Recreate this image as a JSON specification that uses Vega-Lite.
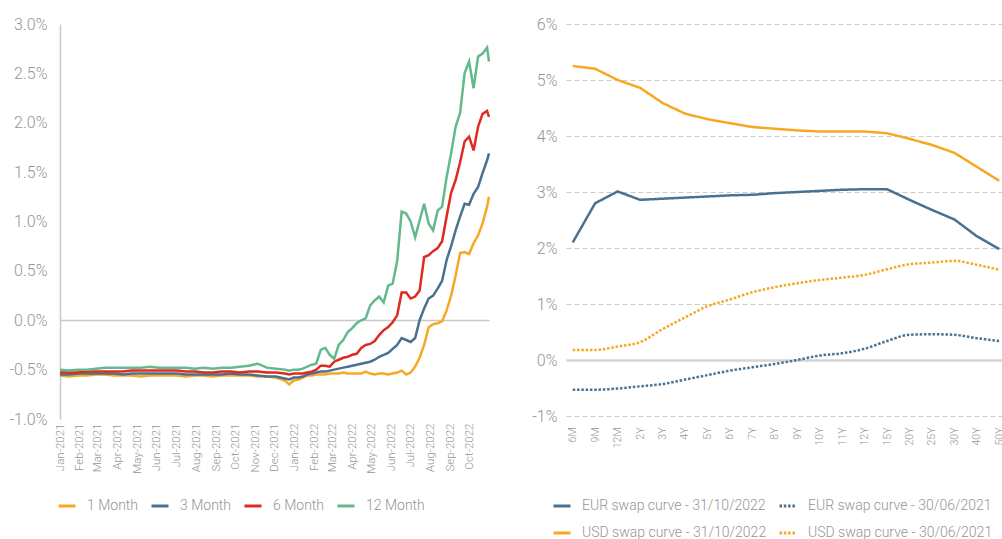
{
  "$schema": "https://vega.github.io/schema/vega-lite/v6.json",
  "background": "white",
  "padding": {"left": 9, "top": 16, "right": 0, "bottom": 0},
  "spacing": 37,
  "resolve": {"scale": {"color": "independent", "strokeDash": "independent"}, "legend": {"color": "independent", "strokeDash": "independent"}},
  "config": {
    "view": {"stroke": null},
    "font": "Roboto",
    "axis": {"labelColor": "#959595", "labelFont": "Roboto", "labelFontWeight": 300},
    "legend": {"labelFont": "Roboto", "labelFontWeight": 300, "labelFontSize": 14, "labelColor": "#959595", "symbolType": "stroke", "symbolStrokeWidth": 3, "symbolSize": 289, "labelOffset": 10, "labelLimit": 400}
  },
  "hconcat": [
    {
      "width": 429,
      "height": 395,
      "data": {"values": [
        {"date":"2021-01-01","series":"1 Month","rate":-0.56},{"date":"2021-01-15","series":"1 Month","rate":-0.57},{"date":"2021-01-29","series":"1 Month","rate":-0.56},{"date":"2021-02-12","series":"1 Month","rate":-0.56},{"date":"2021-02-26","series":"1 Month","rate":-0.55},{"date":"2021-03-12","series":"1 Month","rate":-0.55},{"date":"2021-03-26","series":"1 Month","rate":-0.56},{"date":"2021-04-09","series":"1 Month","rate":-0.56},{"date":"2021-04-23","series":"1 Month","rate":-0.56},{"date":"2021-05-07","series":"1 Month","rate":-0.57},{"date":"2021-05-21","series":"1 Month","rate":-0.56},{"date":"2021-06-04","series":"1 Month","rate":-0.56},{"date":"2021-06-18","series":"1 Month","rate":-0.56},{"date":"2021-07-02","series":"1 Month","rate":-0.56},{"date":"2021-07-16","series":"1 Month","rate":-0.57},{"date":"2021-07-30","series":"1 Month","rate":-0.56},{"date":"2021-08-13","series":"1 Month","rate":-0.56},{"date":"2021-08-27","series":"1 Month","rate":-0.57},{"date":"2021-09-10","series":"1 Month","rate":-0.56},{"date":"2021-09-24","series":"1 Month","rate":-0.56},{"date":"2021-10-08","series":"1 Month","rate":-0.56},{"date":"2021-10-22","series":"1 Month","rate":-0.56},{"date":"2021-11-05","series":"1 Month","rate":-0.57},{"date":"2021-11-19","series":"1 Month","rate":-0.57},{"date":"2021-12-03","series":"1 Month","rate":-0.58},{"date":"2021-12-17","series":"1 Month","rate":-0.61},{"date":"2021-12-24","series":"1 Month","rate":-0.65},{"date":"2021-12-31","series":"1 Month","rate":-0.61},
        {"date":"2022-01-07","series":"1 Month","rate":-0.60},{"date":"2022-01-14","series":"1 Month","rate":-0.58},{"date":"2022-01-21","series":"1 Month","rate":-0.56},{"date":"2022-01-28","series":"1 Month","rate":-0.56},{"date":"2022-02-04","series":"1 Month","rate":-0.55},{"date":"2022-02-11","series":"1 Month","rate":-0.55},{"date":"2022-02-18","series":"1 Month","rate":-0.55},{"date":"2022-02-25","series":"1 Month","rate":-0.54},{"date":"2022-03-04","series":"1 Month","rate":-0.54},{"date":"2022-03-11","series":"1 Month","rate":-0.54},{"date":"2022-03-18","series":"1 Month","rate":-0.53},{"date":"2022-03-25","series":"1 Month","rate":-0.54},{"date":"2022-04-01","series":"1 Month","rate":-0.54},{"date":"2022-04-08","series":"1 Month","rate":-0.54},{"date":"2022-04-15","series":"1 Month","rate":-0.54},{"date":"2022-04-22","series":"1 Month","rate":-0.52},{"date":"2022-04-29","series":"1 Month","rate":-0.54},{"date":"2022-05-06","series":"1 Month","rate":-0.55},{"date":"2022-05-13","series":"1 Month","rate":-0.54},{"date":"2022-05-20","series":"1 Month","rate":-0.54},{"date":"2022-05-27","series":"1 Month","rate":-0.55},{"date":"2022-06-03","series":"1 Month","rate":-0.54},{"date":"2022-06-10","series":"1 Month","rate":-0.53},{"date":"2022-06-17","series":"1 Month","rate":-0.51},{"date":"2022-06-24","series":"1 Month","rate":-0.55},{"date":"2022-07-01","series":"1 Month","rate":-0.53},{"date":"2022-07-08","series":"1 Month","rate":-0.47},{"date":"2022-07-15","series":"1 Month","rate":-0.38},{"date":"2022-07-22","series":"1 Month","rate":-0.25},{"date":"2022-07-29","series":"1 Month","rate":-0.07},{"date":"2022-08-05","series":"1 Month","rate":-0.04},{"date":"2022-08-12","series":"1 Month","rate":-0.03},{"date":"2022-08-19","series":"1 Month","rate":-0.01},{"date":"2022-08-26","series":"1 Month","rate":0.10},{"date":"2022-09-02","series":"1 Month","rate":0.25},{"date":"2022-09-09","series":"1 Month","rate":0.45},{"date":"2022-09-16","series":"1 Month","rate":0.68},{"date":"2022-09-23","series":"1 Month","rate":0.69},{"date":"2022-09-30","series":"1 Month","rate":0.67},{"date":"2022-10-07","series":"1 Month","rate":0.78},{"date":"2022-10-14","series":"1 Month","rate":0.86},{"date":"2022-10-21","series":"1 Month","rate":0.98},{"date":"2022-10-28","series":"1 Month","rate":1.15},{"date":"2022-10-31","series":"1 Month","rate":1.25},

        {"date":"2021-01-01","series":"3 Month","rate":-0.55},{"date":"2021-01-15","series":"3 Month","rate":-0.55},{"date":"2021-01-29","series":"3 Month","rate":-0.54},{"date":"2021-02-12","series":"3 Month","rate":-0.54},{"date":"2021-02-26","series":"3 Month","rate":-0.54},{"date":"2021-03-12","series":"3 Month","rate":-0.54},{"date":"2021-03-26","series":"3 Month","rate":-0.54},{"date":"2021-04-09","series":"3 Month","rate":-0.55},{"date":"2021-04-23","series":"3 Month","rate":-0.54},{"date":"2021-05-07","series":"3 Month","rate":-0.54},{"date":"2021-05-21","series":"3 Month","rate":-0.54},{"date":"2021-06-04","series":"3 Month","rate":-0.54},{"date":"2021-06-18","series":"3 Month","rate":-0.54},{"date":"2021-07-02","series":"3 Month","rate":-0.54},{"date":"2021-07-16","series":"3 Month","rate":-0.55},{"date":"2021-07-30","series":"3 Month","rate":-0.55},{"date":"2021-08-13","series":"3 Month","rate":-0.55},{"date":"2021-08-27","series":"3 Month","rate":-0.55},{"date":"2021-09-10","series":"3 Month","rate":-0.55},{"date":"2021-09-24","series":"3 Month","rate":-0.54},{"date":"2021-10-08","series":"3 Month","rate":-0.55},{"date":"2021-10-22","series":"3 Month","rate":-0.55},{"date":"2021-11-05","series":"3 Month","rate":-0.56},{"date":"2021-11-19","series":"3 Month","rate":-0.57},{"date":"2021-12-03","series":"3 Month","rate":-0.57},{"date":"2021-12-17","series":"3 Month","rate":-0.59},{"date":"2021-12-24","series":"3 Month","rate":-0.60},{"date":"2021-12-31","series":"3 Month","rate":-0.58},
        {"date":"2022-01-07","series":"3 Month","rate":-0.58},{"date":"2022-01-14","series":"3 Month","rate":-0.57},{"date":"2022-01-21","series":"3 Month","rate":-0.55},{"date":"2022-01-28","series":"3 Month","rate":-0.54},{"date":"2022-02-04","series":"3 Month","rate":-0.53},{"date":"2022-02-11","series":"3 Month","rate":-0.52},{"date":"2022-02-18","series":"3 Month","rate":-0.52},{"date":"2022-02-25","series":"3 Month","rate":-0.51},{"date":"2022-03-04","series":"3 Month","rate":-0.50},{"date":"2022-03-11","series":"3 Month","rate":-0.49},{"date":"2022-03-18","series":"3 Month","rate":-0.48},{"date":"2022-03-25","series":"3 Month","rate":-0.47},{"date":"2022-04-01","series":"3 Month","rate":-0.46},{"date":"2022-04-08","series":"3 Month","rate":-0.45},{"date":"2022-04-15","series":"3 Month","rate":-0.44},{"date":"2022-04-22","series":"3 Month","rate":-0.43},{"date":"2022-04-29","series":"3 Month","rate":-0.42},{"date":"2022-05-06","series":"3 Month","rate":-0.40},{"date":"2022-05-13","series":"3 Month","rate":-0.37},{"date":"2022-05-20","series":"3 Month","rate":-0.35},{"date":"2022-05-27","series":"3 Month","rate":-0.33},{"date":"2022-06-03","series":"3 Month","rate":-0.29},{"date":"2022-06-10","series":"3 Month","rate":-0.25},{"date":"2022-06-17","series":"3 Month","rate":-0.18},{"date":"2022-06-24","series":"3 Month","rate":-0.20},{"date":"2022-07-01","series":"3 Month","rate":-0.22},{"date":"2022-07-08","series":"3 Month","rate":-0.18},{"date":"2022-07-15","series":"3 Month","rate":0.00},{"date":"2022-07-22","series":"3 Month","rate":0.12},{"date":"2022-07-29","series":"3 Month","rate":0.22},{"date":"2022-08-05","series":"3 Month","rate":0.25},{"date":"2022-08-12","series":"3 Month","rate":0.32},{"date":"2022-08-19","series":"3 Month","rate":0.40},{"date":"2022-08-26","series":"3 Month","rate":0.61},{"date":"2022-09-02","series":"3 Month","rate":0.75},{"date":"2022-09-09","series":"3 Month","rate":0.91},{"date":"2022-09-16","series":"3 Month","rate":1.05},{"date":"2022-09-23","series":"3 Month","rate":1.18},{"date":"2022-09-30","series":"3 Month","rate":1.17},{"date":"2022-10-07","series":"3 Month","rate":1.28},{"date":"2022-10-14","series":"3 Month","rate":1.35},{"date":"2022-10-21","series":"3 Month","rate":1.49},{"date":"2022-10-28","series":"3 Month","rate":1.62},{"date":"2022-10-31","series":"3 Month","rate":1.69},

        {"date":"2021-01-01","series":"6 Month","rate":-0.53},{"date":"2021-01-15","series":"6 Month","rate":-0.53},{"date":"2021-01-29","series":"6 Month","rate":-0.53},{"date":"2021-02-12","series":"6 Month","rate":-0.52},{"date":"2021-02-26","series":"6 Month","rate":-0.52},{"date":"2021-03-12","series":"6 Month","rate":-0.52},{"date":"2021-03-26","series":"6 Month","rate":-0.52},{"date":"2021-04-09","series":"6 Month","rate":-0.52},{"date":"2021-04-23","series":"6 Month","rate":-0.51},{"date":"2021-05-07","series":"6 Month","rate":-0.51},{"date":"2021-05-21","series":"6 Month","rate":-0.51},{"date":"2021-06-04","series":"6 Month","rate":-0.51},{"date":"2021-06-18","series":"6 Month","rate":-0.51},{"date":"2021-07-02","series":"6 Month","rate":-0.51},{"date":"2021-07-16","series":"6 Month","rate":-0.52},{"date":"2021-07-30","series":"6 Month","rate":-0.52},{"date":"2021-08-13","series":"6 Month","rate":-0.53},{"date":"2021-08-27","series":"6 Month","rate":-0.53},{"date":"2021-09-10","series":"6 Month","rate":-0.52},{"date":"2021-09-24","series":"6 Month","rate":-0.52},{"date":"2021-10-08","series":"6 Month","rate":-0.53},{"date":"2021-10-22","series":"6 Month","rate":-0.52},{"date":"2021-11-05","series":"6 Month","rate":-0.52},{"date":"2021-11-19","series":"6 Month","rate":-0.53},{"date":"2021-12-03","series":"6 Month","rate":-0.53},{"date":"2021-12-17","series":"6 Month","rate":-0.54},{"date":"2021-12-24","series":"6 Month","rate":-0.55},{"date":"2021-12-31","series":"6 Month","rate":-0.54},
        {"date":"2022-01-07","series":"6 Month","rate":-0.54},{"date":"2022-01-14","series":"6 Month","rate":-0.54},{"date":"2022-01-21","series":"6 Month","rate":-0.53},{"date":"2022-01-28","series":"6 Month","rate":-0.52},{"date":"2022-02-04","series":"6 Month","rate":-0.50},{"date":"2022-02-11","series":"6 Month","rate":-0.46},{"date":"2022-02-18","series":"6 Month","rate":-0.46},{"date":"2022-02-25","series":"6 Month","rate":-0.47},{"date":"2022-03-04","series":"6 Month","rate":-0.42},{"date":"2022-03-11","series":"6 Month","rate":-0.40},{"date":"2022-03-18","series":"6 Month","rate":-0.38},{"date":"2022-03-25","series":"6 Month","rate":-0.37},{"date":"2022-04-01","series":"6 Month","rate":-0.35},{"date":"2022-04-08","series":"6 Month","rate":-0.34},{"date":"2022-04-15","series":"6 Month","rate":-0.28},{"date":"2022-04-22","series":"6 Month","rate":-0.25},{"date":"2022-04-29","series":"6 Month","rate":-0.24},{"date":"2022-05-06","series":"6 Month","rate":-0.21},{"date":"2022-05-13","series":"6 Month","rate":-0.15},{"date":"2022-05-20","series":"6 Month","rate":-0.10},{"date":"2022-05-27","series":"6 Month","rate":-0.07},{"date":"2022-06-03","series":"6 Month","rate":-0.02},{"date":"2022-06-10","series":"6 Month","rate":0.05},{"date":"2022-06-17","series":"6 Month","rate":0.28},{"date":"2022-06-24","series":"6 Month","rate":0.28},{"date":"2022-07-01","series":"6 Month","rate":0.22},{"date":"2022-07-08","series":"6 Month","rate":0.24},{"date":"2022-07-15","series":"6 Month","rate":0.30},{"date":"2022-07-22","series":"6 Month","rate":0.64},{"date":"2022-07-29","series":"6 Month","rate":0.66},{"date":"2022-08-05","series":"6 Month","rate":0.70},{"date":"2022-08-12","series":"6 Month","rate":0.73},{"date":"2022-08-19","series":"6 Month","rate":0.80},{"date":"2022-08-26","series":"6 Month","rate":1.05},{"date":"2022-09-02","series":"6 Month","rate":1.29},{"date":"2022-09-09","series":"6 Month","rate":1.42},{"date":"2022-09-16","series":"6 Month","rate":1.60},{"date":"2022-09-23","series":"6 Month","rate":1.81},{"date":"2022-09-30","series":"6 Month","rate":1.86},{"date":"2022-10-07","series":"6 Month","rate":1.72},{"date":"2022-10-14","series":"6 Month","rate":1.96},{"date":"2022-10-21","series":"6 Month","rate":2.09},{"date":"2022-10-28","series":"6 Month","rate":2.12},{"date":"2022-10-31","series":"6 Month","rate":2.06},

        {"date":"2021-01-01","series":"12 Month","rate":-0.50},{"date":"2021-01-15","series":"12 Month","rate":-0.51},{"date":"2021-01-29","series":"12 Month","rate":-0.50},{"date":"2021-02-12","series":"12 Month","rate":-0.50},{"date":"2021-02-26","series":"12 Month","rate":-0.49},{"date":"2021-03-12","series":"12 Month","rate":-0.48},{"date":"2021-03-26","series":"12 Month","rate":-0.48},{"date":"2021-04-09","series":"12 Month","rate":-0.48},{"date":"2021-04-23","series":"12 Month","rate":-0.48},{"date":"2021-05-07","series":"12 Month","rate":-0.48},{"date":"2021-05-21","series":"12 Month","rate":-0.47},{"date":"2021-06-04","series":"12 Month","rate":-0.48},{"date":"2021-06-18","series":"12 Month","rate":-0.48},{"date":"2021-07-02","series":"12 Month","rate":-0.48},{"date":"2021-07-16","series":"12 Month","rate":-0.48},{"date":"2021-07-30","series":"12 Month","rate":-0.49},{"date":"2021-08-13","series":"12 Month","rate":-0.48},{"date":"2021-08-27","series":"12 Month","rate":-0.49},{"date":"2021-09-10","series":"12 Month","rate":-0.48},{"date":"2021-09-24","series":"12 Month","rate":-0.48},{"date":"2021-10-08","series":"12 Month","rate":-0.47},{"date":"2021-10-22","series":"12 Month","rate":-0.46},{"date":"2021-11-05","series":"12 Month","rate":-0.44},{"date":"2021-11-19","series":"12 Month","rate":-0.48},{"date":"2021-12-03","series":"12 Month","rate":-0.49},{"date":"2021-12-17","series":"12 Month","rate":-0.50},{"date":"2021-12-24","series":"12 Month","rate":-0.51},{"date":"2021-12-31","series":"12 Month","rate":-0.50},
        {"date":"2022-01-07","series":"12 Month","rate":-0.50},{"date":"2022-01-14","series":"12 Month","rate":-0.49},{"date":"2022-01-21","series":"12 Month","rate":-0.47},{"date":"2022-01-28","series":"12 Month","rate":-0.45},{"date":"2022-02-04","series":"12 Month","rate":-0.44},{"date":"2022-02-11","series":"12 Month","rate":-0.30},{"date":"2022-02-18","series":"12 Month","rate":-0.28},{"date":"2022-02-25","series":"12 Month","rate":-0.35},{"date":"2022-03-04","series":"12 Month","rate":-0.39},{"date":"2022-03-11","series":"12 Month","rate":-0.25},{"date":"2022-03-18","series":"12 Month","rate":-0.20},{"date":"2022-03-25","series":"12 Month","rate":-0.12},{"date":"2022-04-01","series":"12 Month","rate":-0.08},{"date":"2022-04-08","series":"12 Month","rate":-0.03},{"date":"2022-04-15","series":"12 Month","rate":0.00},{"date":"2022-04-22","series":"12 Month","rate":0.02},{"date":"2022-04-29","series":"12 Month","rate":0.15},{"date":"2022-05-06","series":"12 Month","rate":0.20},{"date":"2022-05-13","series":"12 Month","rate":0.24},{"date":"2022-05-20","series":"12 Month","rate":0.18},{"date":"2022-05-27","series":"12 Month","rate":0.35},{"date":"2022-06-03","series":"12 Month","rate":0.37},{"date":"2022-06-10","series":"12 Month","rate":0.60},{"date":"2022-06-17","series":"12 Month","rate":1.10},{"date":"2022-06-24","series":"12 Month","rate":1.08},{"date":"2022-07-01","series":"12 Month","rate":1.00},{"date":"2022-07-08","series":"12 Month","rate":0.84},{"date":"2022-07-15","series":"12 Month","rate":1.01},{"date":"2022-07-22","series":"12 Month","rate":1.18},{"date":"2022-07-29","series":"12 Month","rate":0.98},{"date":"2022-08-05","series":"12 Month","rate":0.91},{"date":"2022-08-12","series":"12 Month","rate":1.11},{"date":"2022-08-19","series":"12 Month","rate":1.15},{"date":"2022-08-26","series":"12 Month","rate":1.45},{"date":"2022-09-02","series":"12 Month","rate":1.69},{"date":"2022-09-09","series":"12 Month","rate":1.96},{"date":"2022-09-16","series":"12 Month","rate":2.10},{"date":"2022-09-23","series":"12 Month","rate":2.50},{"date":"2022-09-30","series":"12 Month","rate":2.62},{"date":"2022-10-07","series":"12 Month","rate":2.35},{"date":"2022-10-14","series":"12 Month","rate":2.67},{"date":"2022-10-21","series":"12 Month","rate":2.70},{"date":"2022-10-28","series":"12 Month","rate":2.76},{"date":"2022-10-31","series":"12 Month","rate":2.62}
      ]},
      "mark": {"type": "line", "strokeWidth": 2.5},
      "encoding": {
        "x": {
          "field": "date", "type": "temporal",
          "scale": {"type": "utc", "domain": [{"year": 2021, "month": 1, "date": 1, "utc": true}, {"year": 2022, "month": 10, "date": 31, "utc": true}]},
          "axis": {"title": null, "format": "%b-%Y", "labelAngle": -90, "tickCount": {"interval": "month", "step": 1}, "labelFontSize": 11.5, "labelPadding": 4, "labelOverlap": false, "labelFlush": false, "labelBound": false, "domain": false, "ticks": false, "grid": false}
        },
        "y": {
          "field": "rate", "type": "quantitative",
          "scale": {"domain": [-1, 3], "nice": false, "zero": false},
          "axis": {"title": null, "values": [-1, -0.5, 0, 0.5, 1, 1.5, 2, 2.5, 3], "labelExpr": "replace(format(datum.value, '.1f'), '\u2212', '-') + '%'", "labelFontSize": 16, "labelPadding": 13, "domain": true, "domainColor": "#c8c8c8", "domainWidth": 1.5, "ticks": false, "grid": true, "gridColor": "#c8c8c8", "gridWidth": 1.5, "gridOpacity": {"condition": {"test": "datum.value === 0", "value": 1}, "value": 0}}
        },
        "color": {
          "field": "series", "type": "nominal",
          "scale": {"domain": ["1 Month", "3 Month", "6 Month", "12 Month"], "range": ["#F7A823", "#4A7190", "#E02A1F", "#62B98C"]},
          "legend": {"title": null, "orient": "none", "legendX": -3, "legendY": 472, "direction": "horizontal", "columnPadding": 6}
        }
      }
    },
    {
      "width": 440,
      "height": 392,
      "data": {"values": [
        {"tenor":"6M","curve":"EUR swap curve - 31/10/2022","rate":2.10},{"tenor":"9M","curve":"EUR swap curve - 31/10/2022","rate":2.80},{"tenor":"12M","curve":"EUR swap curve - 31/10/2022","rate":3.01},{"tenor":"2Y","curve":"EUR swap curve - 31/10/2022","rate":2.86},{"tenor":"3Y","curve":"EUR swap curve - 31/10/2022","rate":2.88},{"tenor":"4Y","curve":"EUR swap curve - 31/10/2022","rate":2.90},{"tenor":"5Y","curve":"EUR swap curve - 31/10/2022","rate":2.92},{"tenor":"6Y","curve":"EUR swap curve - 31/10/2022","rate":2.94},{"tenor":"7Y","curve":"EUR swap curve - 31/10/2022","rate":2.95},{"tenor":"8Y","curve":"EUR swap curve - 31/10/2022","rate":2.98},{"tenor":"9Y","curve":"EUR swap curve - 31/10/2022","rate":3.00},{"tenor":"10Y","curve":"EUR swap curve - 31/10/2022","rate":3.02},{"tenor":"11Y","curve":"EUR swap curve - 31/10/2022","rate":3.04},{"tenor":"12Y","curve":"EUR swap curve - 31/10/2022","rate":3.05},{"tenor":"15Y","curve":"EUR swap curve - 31/10/2022","rate":3.05},{"tenor":"20Y","curve":"EUR swap curve - 31/10/2022","rate":2.86},{"tenor":"25Y","curve":"EUR swap curve - 31/10/2022","rate":2.68},{"tenor":"30Y","curve":"EUR swap curve - 31/10/2022","rate":2.51},{"tenor":"40Y","curve":"EUR swap curve - 31/10/2022","rate":2.21},{"tenor":"50Y","curve":"EUR swap curve - 31/10/2022","rate":1.98},
        {"tenor":"6M","curve":"EUR swap curve - 30/06/2021","rate":-0.53},{"tenor":"9M","curve":"EUR swap curve - 30/06/2021","rate":-0.53},{"tenor":"12M","curve":"EUR swap curve - 30/06/2021","rate":-0.51},{"tenor":"2Y","curve":"EUR swap curve - 30/06/2021","rate":-0.47},{"tenor":"3Y","curve":"EUR swap curve - 30/06/2021","rate":-0.43},{"tenor":"4Y","curve":"EUR swap curve - 30/06/2021","rate":-0.35},{"tenor":"5Y","curve":"EUR swap curve - 30/06/2021","rate":-0.27},{"tenor":"6Y","curve":"EUR swap curve - 30/06/2021","rate":-0.19},{"tenor":"7Y","curve":"EUR swap curve - 30/06/2021","rate":-0.13},{"tenor":"8Y","curve":"EUR swap curve - 30/06/2021","rate":-0.07},{"tenor":"9Y","curve":"EUR swap curve - 30/06/2021","rate":0.00},{"tenor":"10Y","curve":"EUR swap curve - 30/06/2021","rate":0.08},{"tenor":"11Y","curve":"EUR swap curve - 30/06/2021","rate":0.12},{"tenor":"12Y","curve":"EUR swap curve - 30/06/2021","rate":0.20},{"tenor":"15Y","curve":"EUR swap curve - 30/06/2021","rate":0.34},{"tenor":"20Y","curve":"EUR swap curve - 30/06/2021","rate":0.45},{"tenor":"25Y","curve":"EUR swap curve - 30/06/2021","rate":0.46},{"tenor":"30Y","curve":"EUR swap curve - 30/06/2021","rate":0.45},{"tenor":"40Y","curve":"EUR swap curve - 30/06/2021","rate":0.39},{"tenor":"50Y","curve":"EUR swap curve - 30/06/2021","rate":0.34},
        {"tenor":"6M","curve":"USD swap curve - 31/10/2022","rate":5.25},{"tenor":"9M","curve":"USD swap curve - 31/10/2022","rate":5.20},{"tenor":"12M","curve":"USD swap curve - 31/10/2022","rate":5.00},{"tenor":"2Y","curve":"USD swap curve - 31/10/2022","rate":4.86},{"tenor":"3Y","curve":"USD swap curve - 31/10/2022","rate":4.59},{"tenor":"4Y","curve":"USD swap curve - 31/10/2022","rate":4.40},{"tenor":"5Y","curve":"USD swap curve - 31/10/2022","rate":4.30},{"tenor":"6Y","curve":"USD swap curve - 31/10/2022","rate":4.23},{"tenor":"7Y","curve":"USD swap curve - 31/10/2022","rate":4.16},{"tenor":"8Y","curve":"USD swap curve - 31/10/2022","rate":4.13},{"tenor":"9Y","curve":"USD swap curve - 31/10/2022","rate":4.10},{"tenor":"10Y","curve":"USD swap curve - 31/10/2022","rate":4.08},{"tenor":"11Y","curve":"USD swap curve - 31/10/2022","rate":4.08},{"tenor":"12Y","curve":"USD swap curve - 31/10/2022","rate":4.08},{"tenor":"15Y","curve":"USD swap curve - 31/10/2022","rate":4.05},{"tenor":"20Y","curve":"USD swap curve - 31/10/2022","rate":3.95},{"tenor":"25Y","curve":"USD swap curve - 31/10/2022","rate":3.84},{"tenor":"30Y","curve":"USD swap curve - 31/10/2022","rate":3.70},{"tenor":"40Y","curve":"USD swap curve - 31/10/2022","rate":3.45},{"tenor":"50Y","curve":"USD swap curve - 31/10/2022","rate":3.20},
        {"tenor":"6M","curve":"USD swap curve - 30/06/2021","rate":0.18},{"tenor":"9M","curve":"USD swap curve - 30/06/2021","rate":0.18},{"tenor":"12M","curve":"USD swap curve - 30/06/2021","rate":0.24},{"tenor":"2Y","curve":"USD swap curve - 30/06/2021","rate":0.32},{"tenor":"3Y","curve":"USD swap curve - 30/06/2021","rate":0.55},{"tenor":"4Y","curve":"USD swap curve - 30/06/2021","rate":0.76},{"tenor":"5Y","curve":"USD swap curve - 30/06/2021","rate":0.96},{"tenor":"6Y","curve":"USD swap curve - 30/06/2021","rate":1.08},{"tenor":"7Y","curve":"USD swap curve - 30/06/2021","rate":1.21},{"tenor":"8Y","curve":"USD swap curve - 30/06/2021","rate":1.30},{"tenor":"9Y","curve":"USD swap curve - 30/06/2021","rate":1.37},{"tenor":"10Y","curve":"USD swap curve - 30/06/2021","rate":1.43},{"tenor":"11Y","curve":"USD swap curve - 30/06/2021","rate":1.47},{"tenor":"12Y","curve":"USD swap curve - 30/06/2021","rate":1.52},{"tenor":"15Y","curve":"USD swap curve - 30/06/2021","rate":1.62},{"tenor":"20Y","curve":"USD swap curve - 30/06/2021","rate":1.71},{"tenor":"25Y","curve":"USD swap curve - 30/06/2021","rate":1.74},{"tenor":"30Y","curve":"USD swap curve - 30/06/2021","rate":1.77},{"tenor":"40Y","curve":"USD swap curve - 30/06/2021","rate":1.70},{"tenor":"50Y","curve":"USD swap curve - 30/06/2021","rate":1.61}
      ]},
      "encoding": {
        "x": {
          "field": "tenor", "type": "ordinal",
          "sort": ["6M", "9M", "12M", "2Y", "3Y", "4Y", "5Y", "6Y", "7Y", "8Y", "9Y", "10Y", "11Y", "12Y", "15Y", "20Y", "25Y", "30Y", "40Y", "50Y"],
          "scale": {"type": "point", "padding": 0.3},
          "axis": {"title": null, "labelAngle": -90, "labelFontSize": 10.5, "labelPadding": 11, "domain": false, "ticks": false, "grid": false}
        },
        "y": {
          "field": "rate", "type": "quantitative",
          "scale": {"domain": [-1, 6], "nice": false, "zero": false},
          "axis": {"title": null, "values": [-1, 0, 1, 2, 3, 4, 5, 6], "labelExpr": "replace(format(datum.value, '.0f'), '\u2212', '-') + '%'", "labelFontSize": 16, "labelPadding": 9, "domain": false, "ticks": false, "grid": true,
            "gridColor": {"condition": {"test": "datum.value === 0", "value": "#d4d4d4"}, "value": "#cccccc"},
            "gridDash": {"condition": {"test": "datum.value === 0", "value": []}, "value": [5, 3]},
            "gridWidth": {"condition": {"test": "datum.value === 0", "value": 2.5}, "value": 1.2}}
        },
        "color": {
          "field": "curve", "type": "nominal",
          "scale": {"domain": ["EUR swap curve - 31/10/2022", "EUR swap curve - 30/06/2021", "USD swap curve - 31/10/2022", "USD swap curve - 30/06/2021"], "range": ["#4A7190", "#4A7190", "#F7A823", "#F7A823"]},
          "legend": {"title": null, "orient": "none", "legendX": -14, "legendY": 472, "direction": "horizontal", "columns": 2, "columnPadding": 6, "rowPadding": 10}
        },
        "strokeDash": {
          "field": "curve", "type": "nominal",
          "scale": {"domain": ["EUR swap curve - 31/10/2022", "EUR swap curve - 30/06/2021", "USD swap curve - 31/10/2022", "USD swap curve - 30/06/2021"], "range": [[1, 0], [2.5, 1.8], [1, 0], [2.5, 1.8]]},
          "legend": {"title": null, "orient": "none", "legendX": -14, "legendY": 472, "direction": "horizontal", "columns": 2, "columnPadding": 6, "rowPadding": 10}
        }
      },
      "layer": [
        {"transform": [{"filter": "indexof(datum.curve, '31/10') >= 0"}], "mark": {"type": "line", "strokeWidth": 2.5}},
        {"transform": [{"filter": "indexof(datum.curve, '30/06') >= 0"}], "mark": {"type": "line", "strokeWidth": 2.5, "interpolate": "monotone"}}
      ]
    }
  ]
}
